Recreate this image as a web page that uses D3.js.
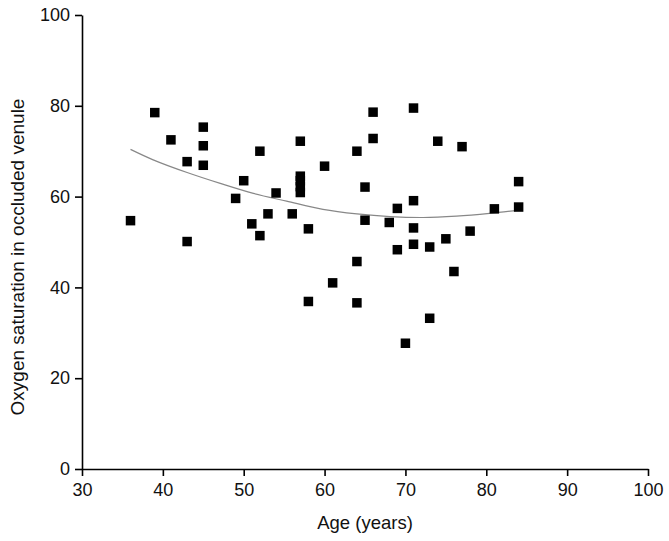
<!DOCTYPE html>
<html><head><meta charset="utf-8">
<script src="https://cdn.jsdelivr.net/npm/d3@7"></script>
<style>body{margin:0;background:#fff;} svg{display:block;}</style>
</head><body>
<svg id="chart" width="669" height="541"></svg>
<script>
const ages = [36,39,41,43,43,45,45,45,49,50,51,52,52,53,54,56,57,57,57,57,57,58,58,60,61,64,64,64,65,65,66,66,68,69,69,70,71,71,71,71,73,73,74,75,76,77,78,81,84,84];
const saturation = [54.7,78.5,72.5,67.7,50.1,75.3,71.2,66.9,59.6,63.5,54.0,51.4,70.0,56.2,60.8,56.2,72.2,64.5,63.5,62.2,60.9,52.9,36.9,66.7,41.0,70.0,45.7,36.6,62.1,54.8,78.6,72.8,54.3,57.4,48.3,27.7,79.5,59.1,53.1,49.5,48.9,33.2,72.2,50.7,43.5,71.0,52.4,57.3,63.3,57.7];
const fitAges = [36,38.8,43,47.1,51.2,55.3,59.8,64,68.1,72.2,76.3,80.4,84];
const fitValues = [70.4,68.1,65.3,62.9,60.7,59.0,57.2,56.2,55.6,55.4,55.7,56.3,57.0];
const xTicks = [30,40,50,60,70,80,90,100];
const yTicks = [0,20,40,60,80,100];

const svg = d3.select('#chart');
const x = d3.scaleLinear().domain([30,100]).range([82,648]);
const y = d3.scaleLinear().domain([0,100]).range([469,15]);
const font = '"Liberation Sans", Arial, sans-serif';

const xAxis = svg.append('g').attr('transform','translate(0,469)')
  .call(d3.axisBottom(x).tickValues(xTicks).tickSize(7).tickSizeOuter(0).tickPadding(7));
const yAxis = svg.append('g').attr('transform','translate(82,0)')
  .call(d3.axisLeft(y).tickValues(yTicks).tickSize(7).tickSizeOuter(0).tickPadding(5));
[xAxis,yAxis].forEach(a=>{
  a.select('.domain').attr('stroke','#000').attr('stroke-width',1.6);
  a.selectAll('.tick line').attr('stroke','#000').attr('stroke-width',1.6);
  a.selectAll('.tick text').attr('font-family',font).attr('font-size',18).attr('fill','#111');
});

svg.append('path')
  .datum(fitAges.map((a,i)=>[a,fitValues[i]]))
  .attr('fill','none').attr('stroke','#888').attr('stroke-width',1.2)
  .attr('d', d3.line().x(d=>x(d[0])).y(d=>y(d[1])).curve(d3.curveCatmullRom));

const s = 9.5;
svg.append('g').selectAll('rect').data(ages.map((a,i)=>[a,saturation[i]])).join('rect')
  .attr('x',d=>x(d[0])-s/2).attr('y',d=>y(d[1])-s/2)
  .attr('width',s).attr('height',s).attr('fill','#000');

svg.append('text').attr('x',365).attr('y',529).attr('text-anchor','middle')
  .attr('font-family',font).attr('font-size',18.5).attr('fill','#111').text('Age (years)');
svg.append('text').attr('transform','translate(24,257) rotate(-90)').attr('text-anchor','middle')
  .attr('font-family',font).attr('font-size',19).attr('fill','#111').text('Oxygen saturation in occluded venule');
</script>
</body></html>
